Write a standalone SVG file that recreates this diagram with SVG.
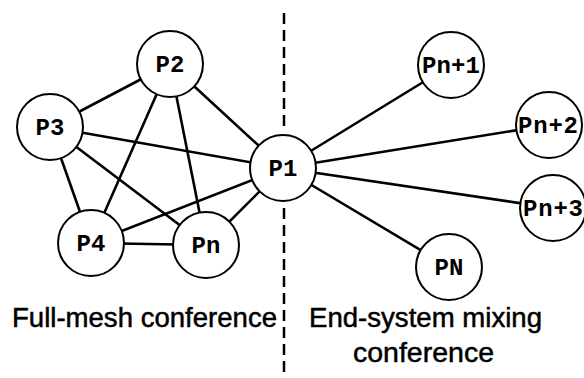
<svg xmlns="http://www.w3.org/2000/svg" width="584" height="378" viewBox="0 0 584 378">
<style>
.bg{fill:#fff}
.edge{stroke:#000;stroke-width:2.6;stroke-linecap:round}
.node circle{fill:#fff;stroke:#000;stroke-width:2}
.node text{font-family:"Liberation Mono","Courier New",monospace;font-weight:bold;font-size:24px;text-anchor:middle;fill:#000}
.cap{font-family:"Liberation Sans",Arial,sans-serif;font-size:27px;fill:#000;stroke:#000;stroke-width:0.5}
.divider{stroke:#000;stroke-width:2.5;stroke-dasharray:11,6}
</style>
<rect class="bg" x="0" y="0" width="584" height="378"/>
<g id="divider">
<line class="divider" x1="284" y1="13" x2="284" y2="127"/>
<line class="divider" x1="284" y1="208" x2="284" y2="378"/>
</g>
<g id="connectors">
<line class="edge" x1="170" y1="64" x2="50" y2="127"/>
<line class="edge" x1="170" y1="64" x2="283" y2="168"/>
<line class="edge" x1="170" y1="64" x2="91" y2="243"/>
<line class="edge" x1="170" y1="64" x2="206" y2="245"/>
<line class="edge" x1="50" y1="127" x2="283" y2="168"/>
<line class="edge" x1="50" y1="127" x2="91" y2="243"/>
<line class="edge" x1="50" y1="127" x2="206" y2="245"/>
<line class="edge" x1="91" y1="243" x2="283" y2="168"/>
<line class="edge" x1="91" y1="243" x2="206" y2="245"/>
<line class="edge" x1="206" y1="245" x2="283" y2="168"/>
<line class="edge" x1="283" y1="168" x2="451" y2="65"/>
<line class="edge" x1="283" y1="168" x2="549" y2="125"/>
<line class="edge" x1="283" y1="168" x2="553" y2="208"/>
<line class="edge" x1="283" y1="168" x2="449" y2="267"/>
</g>
<g id="P1" class="node"><circle cx="283" cy="168" r="33"/><text x="283" y="176">P1</text></g>
<g id="P2" class="node"><circle cx="170" cy="64" r="33"/><text x="170" y="72">P2</text></g>
<g id="P3" class="node"><circle cx="50" cy="127" r="33"/><text x="50" y="135">P3</text></g>
<g id="P4" class="node"><circle cx="91" cy="243" r="33"/><text x="91" y="251">P4</text></g>
<g id="Pn" class="node"><circle cx="206" cy="245" r="33"/><text x="206" y="253">Pn</text></g>
<g id="Pn1" class="node"><circle cx="451" cy="65" r="33"/><text x="451" y="73" textLength="58">Pn+1</text></g>
<g id="Pn2" class="node"><circle cx="549" cy="125" r="33"/><text x="548" y="133" textLength="60">Pn+2</text></g>
<g id="Pn3" class="node"><circle cx="553" cy="208" r="33"/><text x="553" y="216" textLength="60">Pn+3</text></g>
<g id="PN" class="node"><circle cx="449" cy="267" r="33"/><text x="449" y="275">PN</text></g>
<g id="labels">
<text class="cap" x="12" y="327" textLength="265" lengthAdjust="spacingAndGlyphs">Full-mesh conference</text>
<text class="cap" x="309" y="327" textLength="233" lengthAdjust="spacingAndGlyphs">End-system mixing</text>
<text class="cap" x="353" y="362" textLength="141" lengthAdjust="spacingAndGlyphs">conference</text>
</g>
</svg>
